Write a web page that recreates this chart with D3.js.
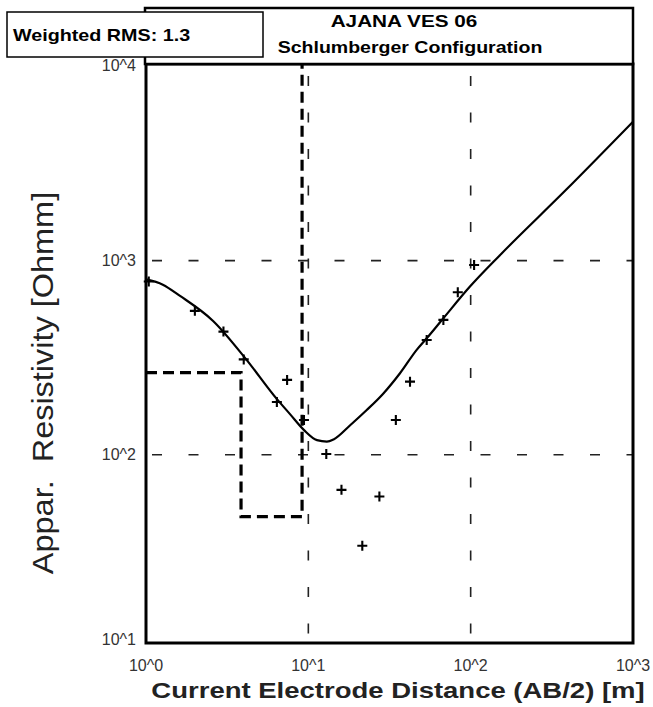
<!DOCTYPE html>
<html>
<head>
<meta charset="utf-8">
<script src="https://cdn.jsdelivr.net/npm/d3@7"></script>
<style>
  body { margin: 0; background: #fff; }
  text { font-family: Arial, "Liberation Sans", sans-serif; }
</style>
</head>
<body>
<script>
var width = 653,
    height = 707;

// Sondage : points mesures (AB/2, resistivite apparente)
var abDist = [1.04, 2, 3, 4, 6.4, 7.4, 9.4, 12.9, 16, 21.5, 27.4, 34.6, 42.3, 53.6, 67.9, 83.3, 105];
var rhoObs = [780, 551, 431, 310, 187, 243, 151, 101, 66, 34, 61, 151, 238, 390, 495, 687, 950];

// Courbe calculee du modele
var curveX = [1, 1.27, 1.62, 2.59, 4.13, 6.39, 7.71, 9.41, 11.3, 13, 14.3, 18.1, 22.9, 29, 36.7, 46.5, 53.6, 67.9, 99, 152, 387, 1000];
var curveY = [800, 752, 658, 489, 311, 194, 162, 134, 119, 117, 120, 142, 170, 207, 263, 347, 398, 505, 735, 1070, 2314, 5190];

// Modele en couches (profondeurs des interfaces, resistivites)
var layerDepth = [3.85, 9.15];
var layerRho = [265, 48, 100000];

var xTicks = [1, 10, 100, 1000];
var xTickLabels = ["10^0", "10^1", "10^2", "10^3"];
var yTicks = [10, 100, 1000, 10000];
var yTickLabels = ["10^1", "10^2", "10^3", "10^4"];

var svg = d3.select("body")
    .append("svg")
    .attr("width", width)
    .attr("height", height);

var x = d3.scaleLog().domain([1, 1000]).range([146, 633]);
var y = d3.scaleLog().domain([10, 10000]).range([649, 66.4]);

var plotTop = 64, plotBottom = 643;

svg.append("clipPath").attr("id", "clip")
    .append("rect")
    .attr("x", x(1)).attr("y", plotTop)
    .attr("width", x(1000) - x(1)).attr("height", plotBottom - plotTop);

// grille en pointilles
svg.append("g").selectAll("line")
    .data([10, 100])
    .join("line")
    .attr("x1", d => x(d)).attr("x2", d => x(d))
    .attr("y1", plotTop).attr("y2", plotBottom)
    .attr("stroke", "#222").attr("stroke-width", 1.6)
    .attr("stroke-dasharray", "10,26.5")
    .attr("stroke-dashoffset", -12);

svg.append("g").selectAll("line")
    .data([100, 1000])
    .join("line")
    .attr("x1", x(1)).attr("x2", x(1000))
    .attr("y1", d => y(d)).attr("y2", d => y(d))
    .attr("stroke", "#222").attr("stroke-width", 1.6)
    .attr("stroke-dasharray", "10,26.5")
    .attr("stroke-dashoffset", -6);

var plot = svg.append("g").attr("clip-path", "url(#clip)");

// modele en couches (marches)
var steps = [[1, layerRho[0]]];
layerDepth.forEach(function (d, i) {
    steps.push([d, layerRho[i]]);
    steps.push([d, layerRho[i + 1]]);
});

plot.append("path")
    .datum(steps)
    .attr("fill", "none")
    .attr("stroke", "#000")
    .attr("stroke-width", 3.2)
    .attr("stroke-dasharray", "11,6")
    .attr("d", d3.line().x(d => x(d[0])).y(d => y(d[1])));

// courbe du modele
var curveData = curveX.map((d, i) => [d, curveY[i]]);
plot.append("path")
    .datum(curveData)
    .attr("fill", "none")
    .attr("stroke", "#000")
    .attr("stroke-width", 2.2)
    .attr("d", d3.line().curve(d3.curveMonotoneX).x(d => x(d[0])).y(d => y(d[1])));

// points mesures (croix)
var pts = abDist.map((d, i) => [d, rhoObs[i]]);
svg.append("g").selectAll("path")
    .data(pts)
    .join("path")
    .attr("d", d => {
        var px = x(d[0]), py = y(d[1]), s = 5;
        return "M" + (px - s) + "," + py + "H" + (px + s) + "M" + px + "," + (py - s) + "V" + (py + s);
    })
    .attr("stroke", "#000")
    .attr("stroke-width", 2.1);

// cadre
svg.append("rect")
    .attr("x", x(1)).attr("y", plotTop)
    .attr("width", x(1000) - x(1)).attr("height", plotBottom - plotTop)
    .attr("fill", "none").attr("stroke", "#000").attr("stroke-width", 3);

// labels des axes
svg.append("g").selectAll("text")
    .data(yTicks)
    .join("text")
    .attr("x", 136)
    .attr("y", d => Math.min(y(d), plotBottom - 3) + 5)
    .attr("text-anchor", "end")
    .attr("font-size", 16)
    .attr("fill", "#333")
    .text((d, i) => yTickLabels[i]);

svg.append("g").selectAll("text")
    .data(xTicks)
    .join("text")
    .attr("x", d => x(d))
    .attr("y", 671)
    .attr("text-anchor", "middle")
    .attr("font-size", 16)
    .attr("fill", "#333")
    .text((d, i) => xTickLabels[i]);

// l'image d'origine est etiree horizontalement -> scale(sx,1)
svg.append("text")
    .attr("transform", "translate(398,698) scale(1.25,1)")
    .attr("text-anchor", "middle")
    .attr("font-size", 22)
    .attr("font-weight", "bold")
    .attr("fill", "#222")
    .text("Current Electrode Distance (AB/2) [m]");

svg.append("text")
    .attr("transform", "translate(53,383) rotate(-90) scale(1.12,1)")
    .attr("text-anchor", "middle")
    .attr("font-size", 29)
    .attr("fill", "#222")
    .attr("xml:space", "preserve")
    .text("Appar.  Resistivity [Ohmm]");

// en-tete
svg.append("rect")
    .attr("x", 145).attr("y", 8)
    .attr("width", 488).attr("height", 56)
    .attr("fill", "#fff").attr("stroke", "#000").attr("stroke-width", 2.5);

svg.append("rect")
    .attr("x", 7).attr("y", 12)
    .attr("width", 256).attr("height", 45)
    .attr("fill", "#fff").attr("stroke", "#000").attr("stroke-width", 1.5);

svg.append("text")
    .attr("transform", "translate(13,41) scale(1.16,1)")
    .attr("font-size", 17).attr("font-weight", "bold")
    .text("Weighted RMS: 1.3");

svg.append("text")
    .attr("transform", "translate(404,27) scale(1.22,1)")
    .attr("text-anchor", "middle")
    .attr("font-size", 17).attr("font-weight", "bold")
    .text("AJANA VES 06");

svg.append("text")
    .attr("transform", "translate(410,53) scale(1.15,1)")
    .attr("text-anchor", "middle")
    .attr("font-size", 17).attr("font-weight", "bold")
    .text("Schlumberger Configuration");
</script>
</body>
</html>
